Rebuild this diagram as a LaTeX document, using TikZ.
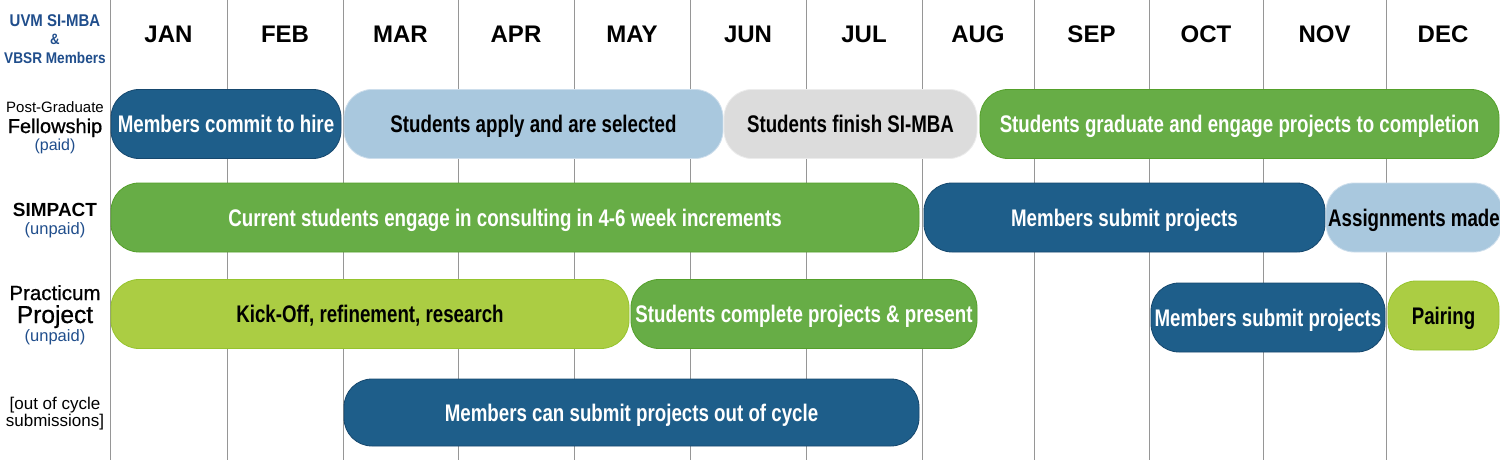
\documentclass[tikz,border=0pt]{standalone}
\usepackage{fontspec}
\setmainfont{Liberation Sans}
\newfontfamily\condfont[FakeStretch=0.78]{Liberation Sans}
\newfontfamily\labfont[FakeStretch=0.88]{Liberation Sans}
\newfontfamily\medfont[FakeBold=0.8]{Liberation Sans}
\definecolor{dblue}{RGB}{30,94,138}
\definecolor{dblueline}{RGB}{22,72,110}
\definecolor{lblue}{RGB}{169,200,222}
\definecolor{lblueline}{RGB}{205,222,236}
\definecolor{lgray}{RGB}{220,220,220}
\definecolor{lgrayline}{RGB}{236,236,236}
\definecolor{mgreen}{RGB}{103,173,70}
\definecolor{mgreenline}{RGB}{84,160,42}
\definecolor{lime}{RGB}{171,205,67}
\definecolor{limeline}{RGB}{150,196,45}
\definecolor{labblue}{RGB}{32,78,140}
\definecolor{gridgray}{RGB}{150,150,150}
\begin{document}
\begin{tikzpicture}[x=1pt,y=-1pt,
  bar/.style={rectangle, rounded corners=28pt, minimum height=69pt, inner sep=0pt,
    line width=0.8pt, text height=17.2pt, text depth=0pt,
    font=\condfont\bfseries\fontsize{24}{28}\selectfont},
  darkbar/.style={bar, fill=dblue, draw=dblueline, text=white},
  lightbar/.style={bar, fill=lblue, draw=lblueline, text=black},
  graybar/.style={bar, fill=lgray, draw=lgrayline, text=black},
  greenbar/.style={bar, fill=mgreen, draw=mgreenline, text=white},
  limebar/.style={bar, fill=lime, draw=limeline, text=black},
  month/.style={anchor=base, inner sep=0pt, font=\bfseries\fontsize{24}{28}\selectfont},
  lab/.style={anchor=base, inner sep=0pt, text=black},
  gridline/.style={draw=gridgray, line width=1pt}
]
\clip (0,0) rectangle (1500,460);
\fill[white] (0,0) rectangle (1500,460);

% grid lines
\foreach \x in {110,227,343,458,574,690,806,922,1034,1149,1263,1386}
  \draw[gridline] (\x,0) -- (\x,460);

% month headings
\node[month] (jan) at (168.5,43) {JAN};
\node[month] (feb) at (285,43) {FEB};
\node[month] (mar) at (400.5,43) {MAR};
\node[month] (apr) at (516,43) {APR};
\node[month] (may) at (632,43) {MAY};
\node[month] (jun) at (748,43) {JUN};
\node[month] (jul) at (864,43) {JUL};
\node[month] (aug) at (978,43) {AUG};
\node[month] (sep) at (1091.5,43) {SEP};
\node[month] (oct) at (1206,43) {OCT};
\node[month] (nov) at (1324.5,43) {NOV};
\node[month] (dec) at (1443,43) {DEC};

% left labels
\node[lab, text=labblue, font=\labfont\bfseries\fontsize{17}{20}\selectfont] (uvm) at (55,27) {UVM SI-MBA};
\node[lab, text=labblue, font=\labfont\bfseries\fontsize{15}{16}\selectfont] (amp) at (55,45) {\&};
\node[lab, text=labblue, font=\labfont\bfseries\fontsize{15.5}{18}\selectfont] (vbsr) at (55,64) {VBSR Members};

\node[lab, font=\fontsize{15}{18}\selectfont] (pg) at (55,112) {Post-Graduate};
\node[lab, font=\medfont\fontsize{20}{24}\selectfont] (fellow) at (55,133) {Fellowship};
\node[lab, text=labblue, font=\fontsize{16}{19}\selectfont] (paid) at (55,150) {(paid)};

\node[lab, font=\bfseries\fontsize{19}{22}\selectfont] (simpact) at (55,216) {SIMPACT};
\node[lab, text=labblue, font=\fontsize{16.5}{19}\selectfont] (unpaidA) at (55,234) {(unpaid)};

\node[lab, font=\medfont\fontsize{20.5}{24}\selectfont] (pract) at (55,300) {Practicum};
\node[lab, font=\medfont\fontsize{24.5}{28}\selectfont] (proj) at (55,323) {Project};
\node[lab, text=labblue, font=\fontsize{16.5}{19}\selectfont] (unpaidB) at (55,341) {(unpaid)};

\node[lab, font=\fontsize{17}{20}\selectfont] (ooc) at (55,409) {[out of cycle};
\node[lab, font=\fontsize{17}{20}\selectfont] (subm) at (55,426) {submissions]};

% row 1: Post-Graduate Fellowship
\node[darkbar, minimum width=230pt] (b1) at (226,124) {Members commit to hire};
\node[lightbar, minimum width=379pt] (b2) at (533.5,124) {Students apply and are selected};
\node[graybar, minimum width=253pt] (b3) at (850.5,124) {Students finish SI-MBA};
\node[greenbar, minimum width=519pt] (b4) at (1239.5,124) {Students graduate and engage projects to completion};

% row 2: SIMPACT
\node[greenbar, minimum width=808pt] (c1) at (515,217.5) {\hspace*{-20pt}Current students engage in consulting in 4-6 week increments};
\node[darkbar, minimum width=401pt] (c2) at (1124.5,217.5) {Members submit projects};
\node[lightbar, minimum width=176pt] (c3) at (1414,217.5) {Assignments made};

% row 3: Practicum Project
\node[limebar, minimum width=518pt] (d1) at (370,314) {Kick-Off, refinement, research};
\node[greenbar, minimum width=346pt] (d2) at (804,314) {Students complete projects \& present};
\node[darkbar, minimum width=234pt] (d3) at (1268,317.5) {Members submit projects};
\node[limebar, minimum width=111pt] (d4) at (1443.5,315.5) {Pairing};

% row 4: out of cycle
\node[darkbar, minimum width=575pt, minimum height=67pt] (e1) at (631.5,412.5) {Members can submit projects out of cycle};
\end{tikzpicture}
\end{document}
